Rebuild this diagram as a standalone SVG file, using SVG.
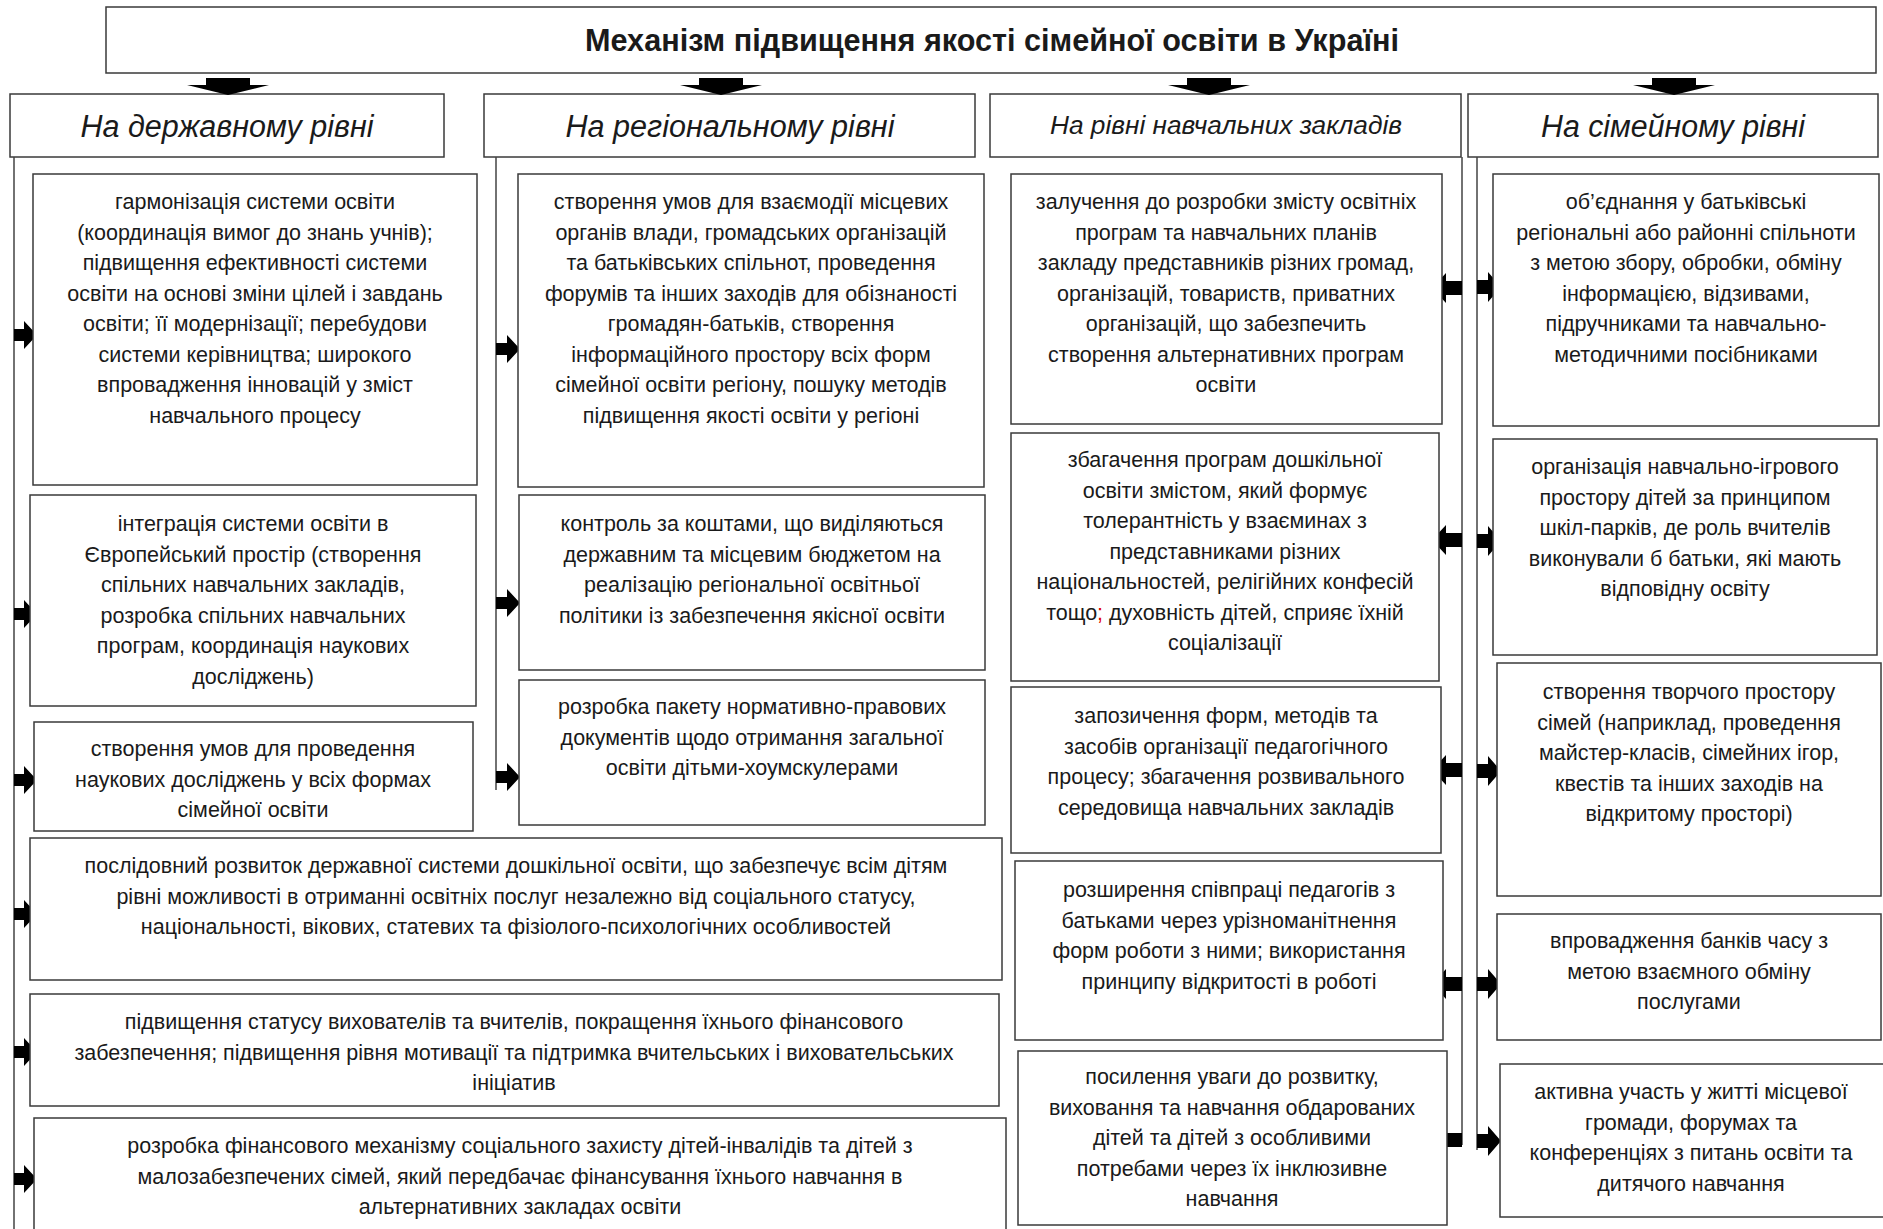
<svg xmlns="http://www.w3.org/2000/svg" width="1883" height="1229" viewBox="0 0 1883 1229">
<style>
.bx{fill:#fff;stroke:#3a3a3a;stroke-width:1.5}
.ln{fill:none;stroke:#444;stroke-width:1.5}
.ar{fill:#000}
.t{font-family:"Liberation Sans",Arial,sans-serif;font-size:21.5px;fill:#1a1a1a;text-anchor:middle}
.h{font-family:"Liberation Sans",Arial,sans-serif;font-size:31px;font-style:italic;fill:#1a1a1a;text-anchor:middle}
.ttl{font-family:"Liberation Sans",Arial,sans-serif;font-size:31px;font-weight:bold;fill:#1a1a1a;text-anchor:middle}
</style>
<rect width="1883" height="1229" fill="#fff"/>

<g id="title"><rect class="bx" x="106" y="7" width="1770" height="66"/><text class="ttl" x="992" y="51" textLength="814" lengthAdjust="spacingAndGlyphs">Механізм підвищення якості сімейної освіти в Україні</text></g>

<g id="h1"><rect class="bx" x="10" y="94" width="434" height="63"/><text class="h" x="227" y="137" textLength="293" lengthAdjust="spacingAndGlyphs">На державному рівні</text></g>
<g id="h2"><rect class="bx" x="484" y="94" width="491" height="63"/><text class="h" x="730" y="137" textLength="329" lengthAdjust="spacingAndGlyphs">На регіональному рівні</text></g>
<g id="h3"><rect class="bx" x="990" y="94" width="471" height="63"/><text class="h" x="1226" y="134" style="font-size:26px" textLength="352" lengthAdjust="spacingAndGlyphs">На рівні навчальних закладів</text></g>
<g id="h4"><rect class="bx" x="1468" y="94" width="410" height="63"/><text class="h" x="1673" y="137" textLength="264" lengthAdjust="spacingAndGlyphs">На сімейному рівні</text></g>

<g id="connectors">
<path class="ln" d="M14,157V1229M496,157V790M1462,157V1145M1477,157V1150"/>
<g class="ar">
<path d="M206,78H250V85H269L228,95L187,85H206Z"/>
<path d="M699,78H743V85H762L721,95L680,85H699Z"/>
<path d="M1187,78H1231V85H1250L1209,95L1168,85H1187Z"/>
<path d="M1652,78H1696V85H1715L1674,95L1633,85H1652Z"/>
<path d="M14,329H24V321L37,335L24,349V341H14Z"/>
<path d="M14,608H24V600L37,614L24,628V620H14Z"/>
<path d="M14,774H24V766L37,780L24,794V786H14Z"/>
<path d="M14,908H24V900L37,914L24,928V920H14Z"/>
<path d="M14,1046H24V1038L37,1052L24,1066V1058H14Z"/>
<path d="M14,1173H24V1165L37,1179L24,1193V1185H14Z"/>
<path d="M496,343H507V335L520,349L507,363V355H496Z"/>
<path d="M496,597H507V589L520,603L507,617V609H496Z"/>
<path d="M496,771H507V763L520,777L507,791V783H496Z"/>
<path d="M1462,281H1446V273L1432,288L1446,303V295H1462Z"/>
<path d="M1462,533H1446V525L1432,540L1446,555V547H1462Z"/>
<path d="M1462,763H1446V755L1432,770L1446,785V777H1462Z"/>
<path d="M1462,977H1446V969L1432,984L1446,999V991H1462Z"/>
<path d="M1462,1133H1446V1125L1432,1140L1446,1155V1147H1462Z"/>
<path d="M1477,280H1488V272L1501,287L1488,302V294H1477Z"/>
<path d="M1477,534H1488V526L1501,541L1488,556V548H1477Z"/>
<path d="M1477,764H1488V756L1501,771L1488,786V778H1477Z"/>
<path d="M1477,977H1488V969L1501,984L1488,999V991H1477Z"/>
<path d="M1477,1134H1488V1126L1501,1141L1488,1156V1148H1477Z"/>
</g>
</g>

<g id="b1"><rect class="bx" x="33" y="174" width="444" height="311"/><text class="t" y="209"><tspan x="255">гармонізація системи освіти</tspan><tspan x="255" dy="30.5">(координація вимог до знань учнів);</tspan><tspan x="255" dy="30.5">підвищення ефективності системи</tspan><tspan x="255" dy="30.5">освіти на основі зміни цілей і завдань</tspan><tspan x="255" dy="30.5">освіти; її модернізації; перебудови</tspan><tspan x="255" dy="30.5">системи керівництва; широкого</tspan><tspan x="255" dy="30.5">впровадження інновацій у зміст</tspan><tspan x="255" dy="30.5">навчального процесу</tspan></text></g>

<g id="b2"><rect class="bx" x="30" y="495" width="446" height="211"/><text class="t" y="531"><tspan x="253">інтеграція системи освіти в</tspan><tspan x="253" dy="30.5">Європейський простір (створення</tspan><tspan x="253" dy="30.5">спільних навчальних закладів,</tspan><tspan x="253" dy="30.5">розробка спільних навчальних</tspan><tspan x="253" dy="30.5">програм, координація наукових</tspan><tspan x="253" dy="30.5">досліджень)</tspan></text></g>

<g id="b3"><rect class="bx" x="34" y="722" width="439" height="109"/><text class="t" y="756"><tspan x="253">створення умов для проведення</tspan><tspan x="253" dy="30.5">наукових досліджень у всіх формах</tspan><tspan x="253" dy="30.5">сімейної освіти</tspan></text></g>

<g id="b4"><rect class="bx" x="30" y="838" width="972" height="142"/><text class="t" y="873"><tspan x="516">послідовний розвиток державної системи дошкільної освіти, що забезпечує всім дітям</tspan><tspan x="516" dy="30.5">рівні можливості в отриманні освітніх послуг незалежно від соціального статусу,</tspan><tspan x="516" dy="30.5">національності, вікових, статевих та фізіолого-психологічних особливостей</tspan></text></g>

<g id="b5"><rect class="bx" x="30" y="994" width="969" height="112"/><text class="t" y="1029"><tspan x="514">підвищення статусу вихователів та вчителів, покращення їхнього фінансового</tspan><tspan x="514" dy="30.5">забезпечення; підвищення рівня мотивації та підтримка вчительських і виховательських</tspan><tspan x="514" dy="30.5">ініціатив</tspan></text></g>

<g id="b6"><rect class="bx" x="34" y="1118" width="972" height="115"/><text class="t" y="1153"><tspan x="520">розробка фінансового механізму соціального захисту дітей-інвалідів та дітей з</tspan><tspan x="520" dy="30.5">малозабезпечених сімей, який передбачає фінансування їхнього навчання в</tspan><tspan x="520" dy="30.5">альтернативних закладах освіти</tspan></text></g>

<g id="r1"><rect class="bx" x="518" y="174" width="466" height="313"/><text class="t" y="209"><tspan x="751">створення умов для взаємодії місцевих</tspan><tspan x="751" dy="30.5">органів влади, громадських організацій</tspan><tspan x="751" dy="30.5">та батьківських спільнот, проведення</tspan><tspan x="751" dy="30.5">форумів та інших заходів для обізнаності</tspan><tspan x="751" dy="30.5">громадян-батьків, створення</tspan><tspan x="751" dy="30.5">інформаційного простору всіх форм</tspan><tspan x="751" dy="30.5">сімейної освіти регіону, пошуку методів</tspan><tspan x="751" dy="30.5">підвищення якості освіти у регіоні</tspan></text></g>

<g id="r2"><rect class="bx" x="519" y="495" width="466" height="175"/><text class="t" y="531"><tspan x="752">контроль за коштами, що виділяються</tspan><tspan x="752" dy="30.5">державним та місцевим бюджетом на</tspan><tspan x="752" dy="30.5">реалізацію регіональної освітньої</tspan><tspan x="752" dy="30.5">політики із забезпечення якісної освіти</tspan></text></g>

<g id="r3"><rect class="bx" x="519" y="680" width="466" height="145"/><text class="t" y="714"><tspan x="752">розробка пакету нормативно-правових</tspan><tspan x="752" dy="30.5">документів щодо отримання загальної</tspan><tspan x="752" dy="30.5">освіти дітьми-хоумскулерами</tspan></text></g>

<g id="e1"><rect class="bx" x="1011" y="174" width="431" height="250"/><text class="t" y="209"><tspan x="1226">залучення до розробки змісту освітніх</tspan><tspan x="1226" dy="30.5">програм та навчальних планів</tspan><tspan x="1226" dy="30.5">закладу представників різних громад,</tspan><tspan x="1226" dy="30.5">організацій, товариств, приватних</tspan><tspan x="1226" dy="30.5">організацій, що забезпечить</tspan><tspan x="1226" dy="30.5">створення альтернативних програм</tspan><tspan x="1226" dy="30.5">освіти</tspan></text></g>

<g id="e2"><rect class="bx" x="1011" y="433" width="428" height="248"/><text class="t" y="467"><tspan x="1225">збагачення програм дошкільної</tspan><tspan x="1225" dy="30.5">освіти змістом, який формує</tspan><tspan x="1225" dy="30.5">толерантність у взаєминах з</tspan><tspan x="1225" dy="30.5">представниками різних</tspan><tspan x="1225" dy="30.5">національностей, релігійних конфесій</tspan><tspan x="1225" dy="30.5">тощо<tspan fill="#e00000">;</tspan> духовність дітей, сприяє їхній</tspan><tspan x="1225" dy="30.5">соціалізації</tspan></text></g>

<g id="e3"><rect class="bx" x="1011" y="687" width="430" height="166"/><text class="t" y="723"><tspan x="1226">запозичення форм, методів та</tspan><tspan x="1226" dy="30.5">засобів організації педагогічного</tspan><tspan x="1226" dy="30.5">процесу; збагачення розвивального</tspan><tspan x="1226" dy="30.5">середовища навчальних закладів</tspan></text></g>

<g id="e4"><rect class="bx" x="1015" y="861" width="428" height="179"/><text class="t" y="897"><tspan x="1229">розширення співпраці педагогів з</tspan><tspan x="1229" dy="30.5">батьками через урізноманітнення</tspan><tspan x="1229" dy="30.5">форм роботи з ними; використання</tspan><tspan x="1229" dy="30.5">принципу відкритості в роботі</tspan></text></g>

<g id="e5"><rect class="bx" x="1018" y="1051" width="429" height="174"/><text class="t" y="1084"><tspan x="1232">посилення уваги до розвитку,</tspan><tspan x="1232" dy="30.5">виховання та навчання обдарованих</tspan><tspan x="1232" dy="30.5">дітей та дітей з особливими</tspan><tspan x="1232" dy="30.5">потребами через їх інклюзивне</tspan><tspan x="1232" dy="30.5">навчання</tspan></text></g>

<g id="f1"><rect class="bx" x="1493" y="174" width="386" height="252"/><text class="t" y="209"><tspan x="1686">об’єднання у батьківські</tspan><tspan x="1686" dy="30.5">регіональні або районні спільноти</tspan><tspan x="1686" dy="30.5">з метою збору, обробки, обміну</tspan><tspan x="1686" dy="30.5">інформацією, відзивами,</tspan><tspan x="1686" dy="30.5">підручниками та навчально-</tspan><tspan x="1686" dy="30.5">методичними посібниками</tspan></text></g>

<g id="f2"><rect class="bx" x="1493" y="439" width="384" height="216"/><text class="t" y="474"><tspan x="1685">організація навчально-ігрового</tspan><tspan x="1685" dy="30.5">простору дітей за принципом</tspan><tspan x="1685" dy="30.5">шкіл-парків, де роль вчителів</tspan><tspan x="1685" dy="30.5">виконували б батьки, які мають</tspan><tspan x="1685" dy="30.5">відповідну освіту</tspan></text></g>

<g id="f3"><rect class="bx" x="1497" y="663" width="384" height="233"/><text class="t" y="699"><tspan x="1689">створення творчого простору</tspan><tspan x="1689" dy="30.5">сімей (наприклад, проведення</tspan><tspan x="1689" dy="30.5">майстер-класів, сімейних ігор,</tspan><tspan x="1689" dy="30.5">квестів та інших заходів на</tspan><tspan x="1689" dy="30.5">відкритому просторі)</tspan></text></g>

<g id="f4"><rect class="bx" x="1497" y="914" width="384" height="126"/><text class="t" y="948"><tspan x="1689">впровадження банків часу з</tspan><tspan x="1689" dy="30.5">метою взаємного обміну</tspan><tspan x="1689" dy="30.5">послугами</tspan></text></g>

<g id="f5"><rect class="bx" x="1500" y="1064" width="386" height="153"/><text class="t" y="1099"><tspan x="1691">активна участь у житті місцевої</tspan><tspan x="1691" dy="30.5">громади, форумах та</tspan><tspan x="1691" dy="30.5">конференціях з питань освіти та</tspan><tspan x="1691" dy="30.5">дитячого навчання</tspan></text></g>
</svg>
